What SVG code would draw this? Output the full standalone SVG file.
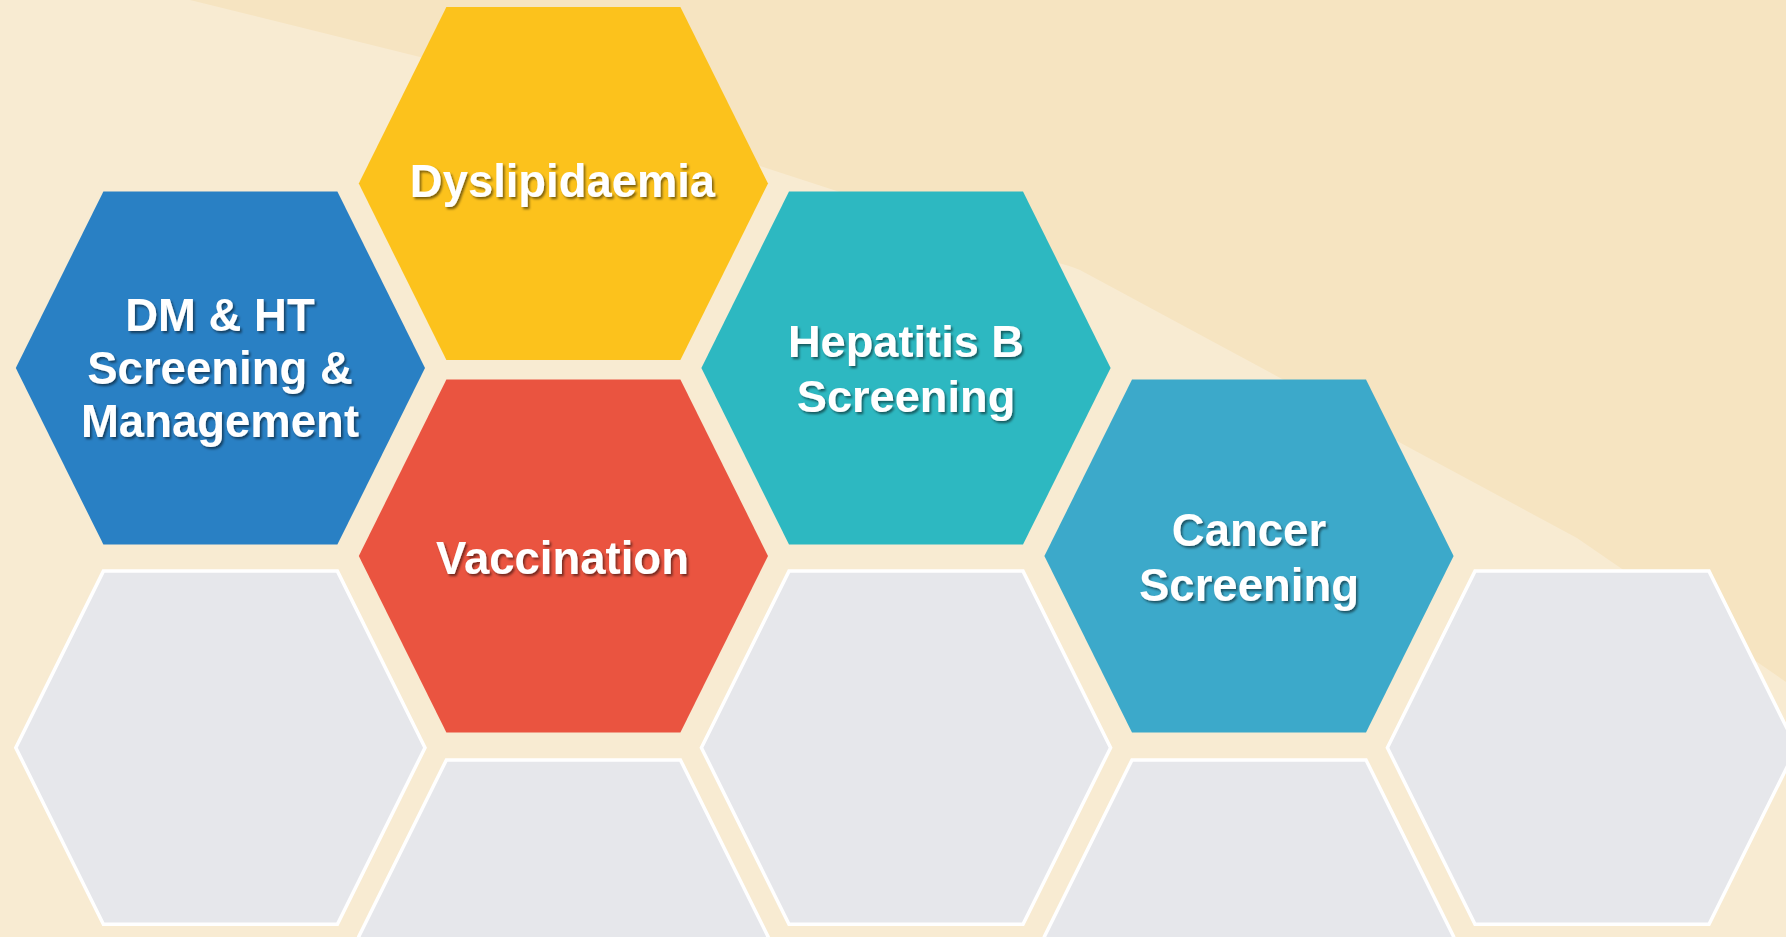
<svg xmlns="http://www.w3.org/2000/svg" xmlns:xlink="http://www.w3.org/1999/xlink" width="1786" height="937" viewBox="0 0 1786 937">
  <defs>
    <path id="hex" d="M-117,-176.6 L117,-176.6 L204.6,0 L117,176.6 L-117,176.6 L-204.6,0 Z"/>
    <filter id="shadow" x="-10%" y="-20%" width="120%" height="150%">
      <feDropShadow dx="1.8" dy="2.2" stdDeviation="1.2" flood-color="#000000" flood-opacity="0.5"/>
    </filter>
    <style>
      .label { font-family: "Liberation Sans", Arial, sans-serif; font-weight: bold; fill: #ffffff; text-anchor: middle; filter: url(#shadow); }
      .empty { fill: #E6E7EB; stroke: #ffffff; stroke-width: 3.5; }
    </style>
  </defs>

  <!-- background -->
  <rect x="0" y="0" width="1786" height="937" fill="#F8EBD2"/>
  <path d="M190,0 L420,57 L763,167 L1058,263 Q1068,265 1080,270 L1577,538 L1786,682 L1786,0 Z" fill="#F6E4C1"/>

  <!-- empty placeholder hexagons -->
  <g id="empty-1"><use xlink:href="#hex" class="empty" transform="translate(220.4,747.7)"/></g>
  <g id="empty-2"><use xlink:href="#hex" class="empty" transform="translate(906,747.7)"/></g>
  <g id="empty-3"><use xlink:href="#hex" class="empty" transform="translate(1592,747.7)"/></g>
  <g id="empty-4"><use xlink:href="#hex" class="empty" transform="translate(563.4,936.5)"/></g>
  <g id="empty-5"><use xlink:href="#hex" class="empty" transform="translate(1249,936.5)"/></g>

  <!-- labelled hexagons -->
  <g id="dm-ht">
    <use xlink:href="#hex" fill="#2980C4" transform="translate(220.4,368)"/>
    <text class="label" font-size="45.5"><tspan x="220" y="330.5">DM &amp; HT</tspan><tspan x="220" y="383.5">Screening &amp;</tspan><tspan x="220" y="437">Management</tspan></text>
  </g>

  <g id="dyslipidaemia">
    <use xlink:href="#hex" fill="#FCC21C" transform="translate(563.4,183.5)"/>
    <text class="label" font-size="45.4" x="562.5" y="196.7">Dyslipidaemia</text>
  </g>

  <g id="vaccination">
    <use xlink:href="#hex" fill="#EA5440" transform="translate(563.4,556)"/>
    <text class="label" font-size="45.5" x="562.5" y="573.5">Vaccination</text>
  </g>

  <g id="hepatitis-b">
    <use xlink:href="#hex" fill="#2DB8C1" transform="translate(906,368)"/>
    <text class="label" font-size="45.2"><tspan x="906" y="356.7">Hepatitis B</tspan><tspan x="906" y="411.5">Screening</tspan></text>
  </g>

  <g id="cancer">
    <use xlink:href="#hex" fill="#3CA9CA" transform="translate(1249,556)"/>
    <text class="label" font-size="45.5"><tspan x="1249" y="545.5">Cancer</tspan><tspan x="1249" y="600.5">Screening</tspan></text>
  </g>

  <g id="connectors"/>
</svg>
